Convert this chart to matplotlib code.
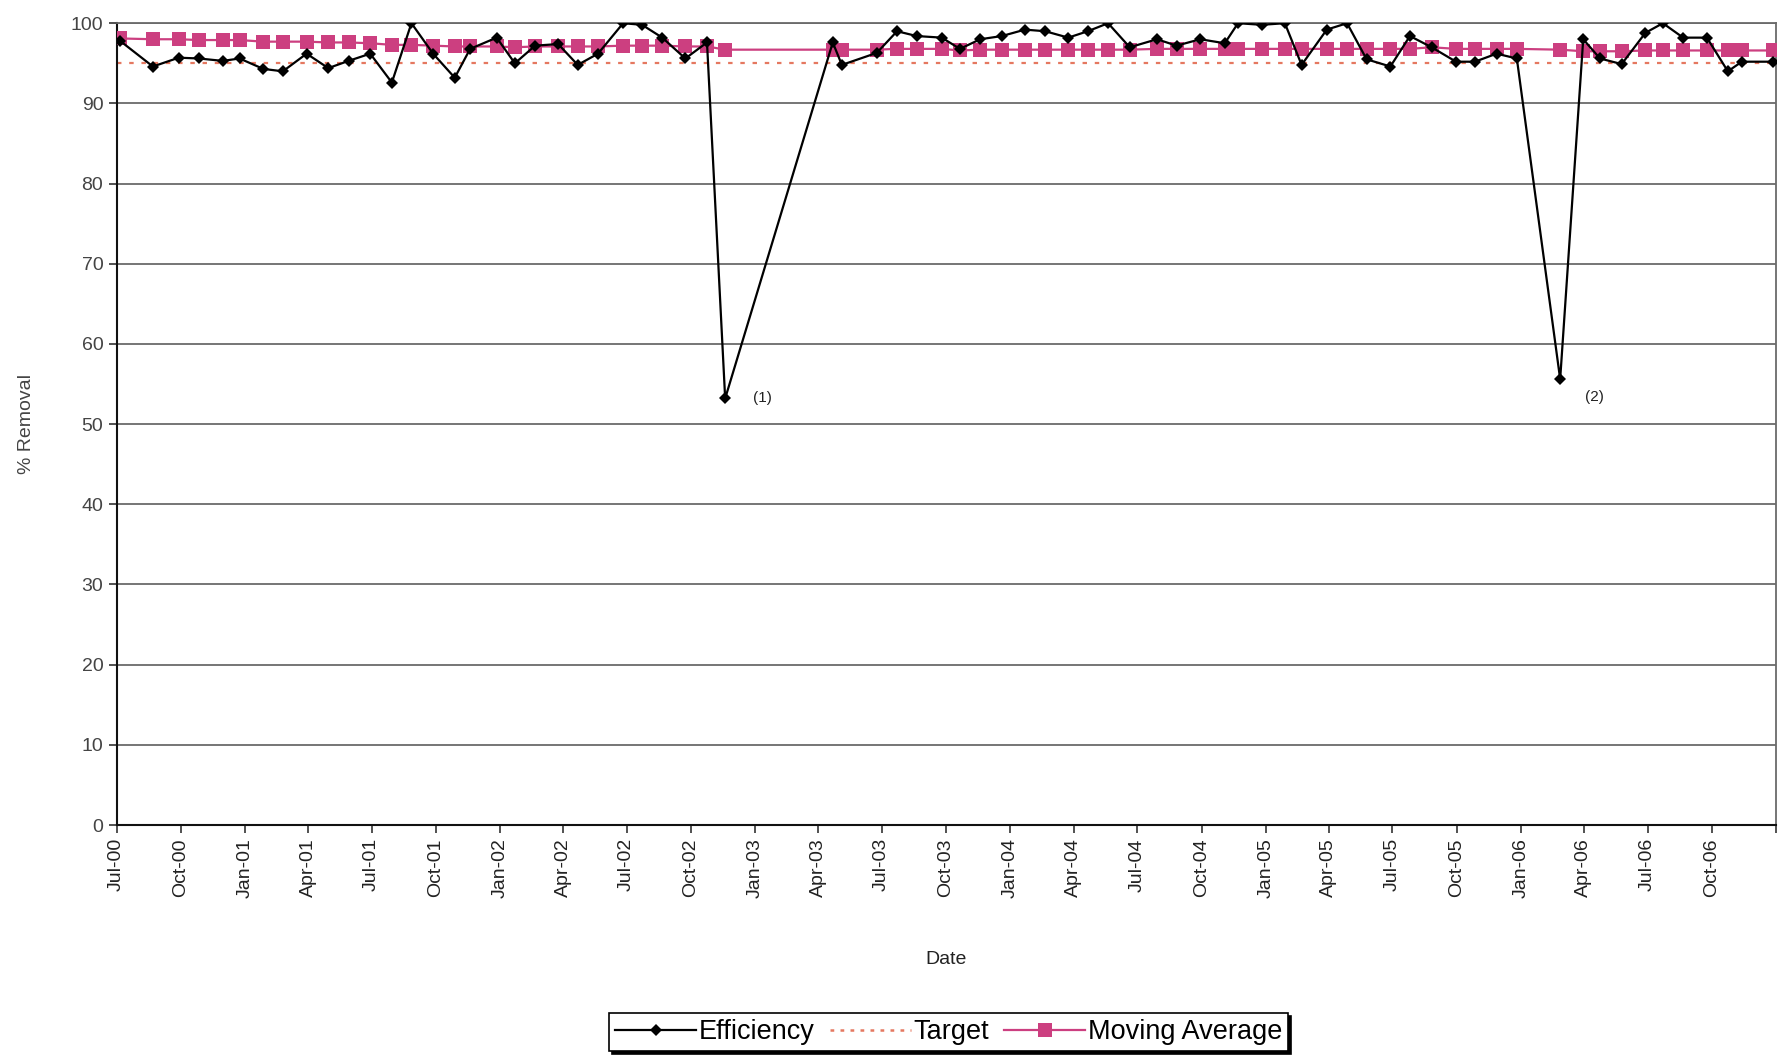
import matplotlib
matplotlib.use("Agg")
import matplotlib.pyplot as plt
import matplotlib.dates as mdates
import pandas as pd
from matplotlib.lines import Line2D

plt.rcParams['font.family'] = ['Liberation Sans', 'DejaVu Sans']

# ---------------- data ----------------
dates = [
    "2000-07-06", "2000-08-22", "2000-09-28", "2000-10-27", "2000-11-30", "2000-12-24",
    "2001-01-27", "2001-02-24", "2001-03-30", "2001-04-30", "2001-05-29", "2001-06-29",
    "2001-07-30", "2001-08-27", "2001-09-27", "2001-10-28", "2001-11-19", "2001-12-27",
    "2002-01-22", "2002-02-20", "2002-03-25", "2002-04-22", "2002-05-21", "2002-06-26",
    "2002-07-23", "2002-08-21", "2002-09-23", "2002-10-24", "2002-11-19",
    "2003-04-22", "2003-05-05", "2003-06-24", "2003-07-23", "2003-08-20", "2003-09-25",
    "2003-10-21", "2003-11-19", "2003-12-20", "2004-01-22", "2004-02-20", "2004-03-24",
    "2004-04-21", "2004-05-20", "2004-06-20", "2004-07-29", "2004-08-26", "2004-09-29",
    "2004-11-03", "2004-11-22", "2004-12-26", "2005-01-28", "2005-02-21", "2005-03-29",
    "2005-04-27", "2005-05-25", "2005-06-28", "2005-07-26", "2005-08-26", "2005-09-30",
    "2005-10-27", "2005-11-27", "2005-12-26", "2006-02-26", "2006-03-31", "2006-04-24",
    "2006-05-25", "2006-06-28", "2006-07-23", "2006-08-21", "2006-09-24", "2006-10-24",
    "2006-11-13", "2006-12-28",
]
efficiency = [
    97.8, 94.6, 95.7, 95.6, 95.3, 95.6,
    94.3, 94.0, 96.2, 94.4, 95.3, 96.2,
    92.6, 100.0, 96.2, 93.2, 96.8, 98.2,
    95.0, 97.2, 97.4, 94.8, 96.2, 100.0,
    99.8, 98.2, 95.6, 97.6, 53.2,
    97.6, 94.8, 96.3, 99.0, 98.4, 98.2,
    96.8, 98.0, 98.4, 99.2, 99.0, 98.2,
    99.0, 100.0, 97.0, 98.0, 97.2, 98.0,
    97.5, 100.0, 99.8, 100.0, 94.8, 99.2,
    100.0, 95.5, 94.6, 98.4, 97.0, 95.2,
    95.2, 96.2, 95.6, 55.6, 98.0, 95.6,
    94.9, 98.8, 100.0, 98.2, 98.2, 94.0,
    95.2, 95.2,
]
moving_average = [
    98.1, 98.0, 98.0, 97.9, 97.9, 97.9,
    97.7, 97.7, 97.7, 97.6, 97.6, 97.5,
    97.3, 97.3, 97.2, 97.1, 97.1, 97.1,
    97.0, 97.1, 97.1, 97.1, 97.1, 97.2,
    97.2, 97.2, 97.1, 97.1, 96.7,
    96.7, 96.7, 96.7, 96.8, 96.8, 96.8,
    96.6, 96.7, 96.7, 96.7, 96.7, 96.7,
    96.7, 96.7, 96.7, 96.8, 96.8, 96.8,
    96.8, 96.8, 96.8, 96.8, 96.8, 96.8,
    96.8, 96.8, 96.8, 96.8, 97.0, 96.8,
    96.8, 96.8, 96.8, 96.7, 96.5, 96.5,
    96.5, 96.6, 96.6, 96.6, 96.6, 96.6,
    96.6, 96.6,
]
target = 95.0
annotations = [("2002-11-19", 53.2, "(1)"), ("2006-02-26", 55.6, "(2)")]
x_start, x_end = "2000-07-01", "2007-01-01"

# ---------------- figure ----------------
fig = plt.figure(figsize=(17.85, 10.55), dpi=100)
ax = fig.add_axes([0.0653, 0.218, 0.9297, 0.760])

d = pd.to_datetime(dates)
ma_color = '#CC3F80'
tgt_color = '#E57860'

ax.axhline(target, color=tgt_color, lw=1.6, ls=(0, (2, 3.5)), zorder=2)
ax.plot(d, moving_average, color=ma_color, lw=1.6, marker='s', markersize=10.5,
        markeredgewidth=0, zorder=3)
ax.plot(d, efficiency, color='black', lw=1.6, marker='D', markersize=6,
        markeredgewidth=0, zorder=4)

for dt, v, txt in annotations:
    off = (20, 0) if txt == "(1)" else (18, -13)
    ax.annotate(txt, (pd.Timestamp(dt), v), xytext=off, textcoords='offset points',
                fontsize=11, va='center', ha='left', color='#222222')

ax.set_xlim(pd.Timestamp(x_start), pd.Timestamp(x_end))
ax.set_ylim(0, 100)
ax.set_yticks(range(0, 101, 10))
ax.yaxis.grid(True, color='#6a6a6a', lw=1.3)
ax.set_axisbelow(True)

ax.xaxis.set_major_locator(mdates.MonthLocator(bymonth=[1, 4, 7, 10]))
ax.xaxis.set_major_formatter(mdates.DateFormatter('%b-%y'))
ax.tick_params(axis='x', labelrotation=90, labelsize=14, length=6, width=1.2,
               color='#333333', labelcolor='#222222')
ax.tick_params(axis='y', labelsize=14, length=6, width=1.2, color='#333333',
               labelcolor='#444444')

fig.canvas.draw()
for lab in ax.get_xticklabels():
    if lab.get_text() == 'Jan-07':
        lab.set_visible(False)

for s in ['left', 'bottom']:
    ax.spines[s].set_color('#111111')
    ax.spines[s].set_linewidth(1.5)
for s in ['top', 'right']:
    ax.spines[s].set_color('#6a6a6a')
    ax.spines[s].set_linewidth(1.3)

ax.set_ylabel('% Removal', fontsize=14, color='#444444', labelpad=26)
ax.set_xlabel('Date', fontsize=14, color='#222222', labelpad=38)

handles = [
    Line2D([], [], color='black', lw=1.6, marker='D', markersize=6, markeredgewidth=0),
    Line2D([], [], color=tgt_color, lw=1.8, ls=(0, (1.5, 2.5))),
    Line2D([], [], color=ma_color, lw=1.6, marker='s', markersize=10.5, markeredgewidth=0),
]
leg = fig.legend(handles, ['Efficiency', 'Target', 'Moving Average'], loc='lower center',
                 bbox_to_anchor=(0.5315, 0.0), ncol=3, fontsize=19.5, frameon=True,
                 fancybox=False, edgecolor='black', handlelength=3.0, handletextpad=0.1,
                 columnspacing=0.55, borderpad=0.22, borderaxespad=0.15,
                 shadow={'color': 'black', 'alpha': 1.0, 'ox': 2, 'oy': -2})
leg.get_frame().set_linewidth(1.2)

fig.savefig('out.png', dpi=100, facecolor='white')
